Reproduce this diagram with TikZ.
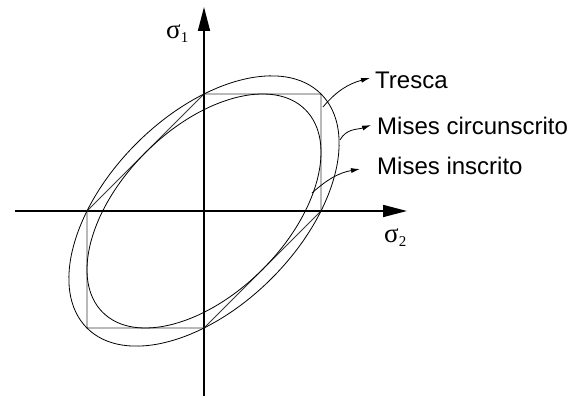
\documentclass[tikz,border=0pt]{standalone}
\usepackage{fontspec}
\setmainfont{Liberation Sans}
\newfontfamily\sigf{Liberation Serif}
\usetikzlibrary{arrows.meta}
\begin{document}
\begin{tikzpicture}[x=1pt,y=1pt,
  axisline/.style={line width=1.6pt,-{Triangle[length=24pt,width=12pt]}},
  curve/.style={line width=0.8pt},
  tresca/.style={line width=0.8pt,draw=black!78},
  pointer/.style={line width=0.8pt,-{Latex[length=9pt,width=5pt]}},
  lbl/.style={anchor=base west,inner sep=0pt,font=\fontsize{24}{28}\selectfont},
  sig/.style={anchor=base west,inner sep=0pt}]
\useasboundingbox (-204,-185) rectangle (372,211);
% axes
\coordinate (xl) at (-189,0);
\coordinate (xr) at (203,0);
\coordinate (yb) at (0,-186);
\coordinate (yt) at (0,204);
\draw[axisline] (xl) -- (xr);
\draw[axisline] (yb) -- (yt);
% Tresca hexagon
\draw[tresca] (0,117) -- (117,117) -- (117,0) -- (0,-117) -- (-117,-117) -- (-117,0) -- cycle;
% Mises ellipses
\draw[curve,rotate=45] (0,0) ellipse [x radius=165.5, y radius=95.5];
\draw[curve,rotate=45] (0,0) ellipse [x radius=143.3, y radius=82.7];
% labels
\node[sig] (s1) at (-38,172) {{\sigf\fontsize{27}{28}\selectfont σ}{\sigf\fontsize{15}{16}\selectfont\raisebox{-4pt}{1}}};
\node[sig] (s2) at (180,-32) {{\sigf\fontsize{27}{28}\selectfont σ}{\sigf\fontsize{15}{16}\selectfont\raisebox{-4pt}{2}}};
\node[lbl] (tl) at (171,122) {Tresca};
\node[lbl] (cl) at (173,76) {Mises circunscrito};
\node[lbl] (il) at (173,36) {Mises inscrito};
% pointer ends
\coordinate (ta) at (119,104);
\coordinate (tb) at (166,133);
\coordinate (ca) at (136,71);
\coordinate (cb) at (167,86);
\coordinate (ia) at (108,18);
\coordinate (ib) at (156,42);
\draw[pointer] (ta) to[out=50,in=195] (tb);
\draw[pointer] (ca) to[out=62,in=200] (cb);
\draw[pointer] (ia) to[out=42,in=190] (ib);
\end{tikzpicture}
\end{document}
